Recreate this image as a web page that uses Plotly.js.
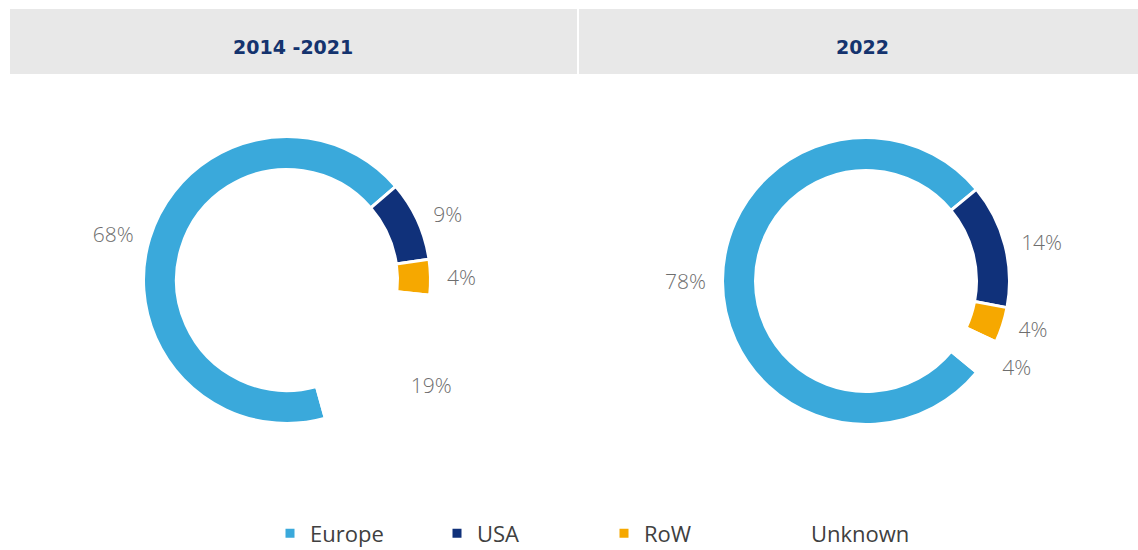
<!DOCTYPE html>
<html>
<head>
<meta charset="utf-8">
<script src="https://cdn.plot.ly/plotly-3.0.1.min.js"></script>
<style>
  html, body { margin: 0; padding: 0; background: #ffffff; }
  #chart { width: 1138px; height: 550px; }
</style>
</head>
<body>
<div id="chart"></div>
<script>
// ---- data ----
const periods = ['2014 -2021', '2022'];
const regions = ['Europe', 'USA', 'RoW', 'Unknown'];
const share2014to2021 = [68, 9, 4, 19];
const share2022 = [78, 14, 4, 4];

// ---- styling ----
const sliceColors = ['#3AA9DB', '#10317A', '#F6A800', '#FFFFFF'];
const W = 1138, H = 550;

function dom(cx, cy, r) {
  return {
    x: [(cx - r) / W, (cx + r) / W],
    y: [(H - cy - r) / H, (H - cy + r) / H]
  };
}

const ringR = 143.5;
const labelR = 153;
const charts = [
  { values: share2014to2021, cx: 287, cy: 280, rotation: 164.5 },
  { values: share2022, cx: 866, cy: 281, rotation: 129.5 }
];

const labelFont = { family: 'Open Sans, sans-serif', size: 21, color: '#6E6E6E', weight: 300 };

const traces = [];
charts.forEach((c, i) => {
  // visible donut ring
  traces.push({
    type: 'pie',
    labels: regions,
    values: c.values,
    sort: false,
    direction: 'clockwise',
    rotation: c.rotation,
    hole: 0.77,
    domain: dom(c.cx, c.cy, ringR),
    marker: { colors: sliceColors, line: { color: '#FFFFFF', width: 3 } },
    textinfo: 'none',
    hoverinfo: 'skip',
    showlegend: i === 0
  });
  // transparent twin used only to place the percentage labels a bit further out
  traces.push({
    type: 'pie',
    labels: regions,
    values: c.values,
    sort: false,
    direction: 'clockwise',
    rotation: c.rotation,
    hole: 0.9,
    domain: dom(c.cx, c.cy, labelR),
    marker: { colors: regions.map(() => 'rgba(0,0,0,0)'), line: { width: 0 } },
    textposition: 'outside',
    texttemplate: '%{percent:.0%}',
    textfont: labelFont,
    outsidetextfont: labelFont,
    automargin: false,
    hoverinfo: 'skip',
    showlegend: false
  });
});

const layout = {
  width: W,
  height: H,
  margin: { l: 0, r: 0, t: 0, b: 0, autoexpand: false },
  paper_bgcolor: '#FFFFFF',
  plot_bgcolor: '#FFFFFF',
  showlegend: true,
  legend: {
    orientation: 'h',
    x: 270 / W,
    xanchor: 'left',
    y: -0.008,
    yanchor: 'bottom',
    entrywidth: 122,
    entrywidthmode: 'pixels',
    font: { family: 'Open Sans, sans-serif', size: 22, color: '#404040' },
    traceorder: 'normal'
  },
  shapes: [
    { type: 'rect', xref: 'paper', yref: 'paper', layer: 'below',
      x0: 10 / W, x1: 577 / W, y0: 1 - 74 / H, y1: 1 - 9 / H,
      fillcolor: '#E8E8E8', line: { width: 0 } },
    { type: 'rect', xref: 'paper', yref: 'paper', layer: 'below',
      x0: 579 / W, x1: 1, y0: 1 - 74 / H, y1: 1 - 9 / H,
      fillcolor: '#E8E8E8', line: { width: 0 } }
  ],
  annotations: [
    { text: '<b>' + periods[0] + '</b>', xref: 'paper', yref: 'paper',
      x: 293 / W, y: 1 - 47 / H, xanchor: 'center', yanchor: 'middle', showarrow: false,
      font: { family: 'DejaVu Sans, sans-serif', size: 19, color: '#14336E' } },
    { text: '<b>' + periods[1] + '</b>', xref: 'paper', yref: 'paper',
      x: 862 / W, y: 1 - 47 / H, xanchor: 'center', yanchor: 'middle', showarrow: false,
      font: { family: 'DejaVu Sans, sans-serif', size: 19, color: '#14336E' } }
  ]
};

Plotly.newPlot('chart', traces, layout, { displayModeBar: false, staticPlot: true });
</script>
</body>
</html>
